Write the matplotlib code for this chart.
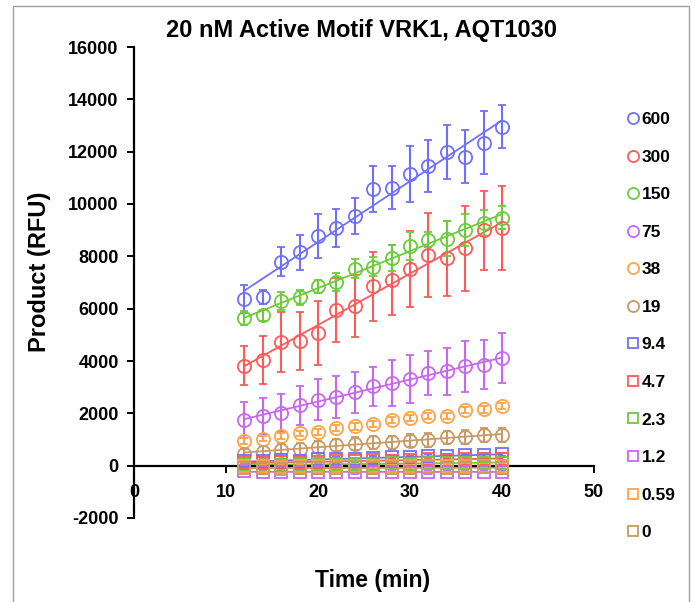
import numpy as np
import matplotlib
matplotlib.use("Agg")
import matplotlib.pyplot as plt
from matplotlib.lines import Line2D
from matplotlib.patches import Rectangle

plt.rcParams['font.family'] = ['Liberation Sans', 'DejaVu Sans']
plt.rcParams['axes.unicode_minus'] = False

time = [12, 14, 16, 18, 20, 22, 24, 26, 28, 30, 32, 34, 36, 38, 40]

labels = ["600", "300", "150", "75", "38", "19", "9.4", "4.7", "2.3", "1.2", "0.59", "0"]

c600 = [6380, 6440, 7800, 8160, 8790, 9080, 9550, 10570, 10630, 11150, 11460, 12000, 11810, 12350, 12960]
e600 = [530, 270, 570, 670, 840, 720, 690, 865, 840, 1055, 990, 1030, 1025, 1210, 835]
c300 = [3820, 4040, 4720, 4770, 5080, 5960, 6110, 6850, 7100, 7520, 8050, 7930, 8300, 8990, 9080]
e300 = [745, 920, 1140, 1115, 1220, 1220, 1180, 1325, 1335, 1450, 1600, 1430, 1610, 1515, 1590]
c150 = [5640, 5740, 6280, 6440, 6850, 7010, 7520, 7610, 7950, 8400, 8630, 8670, 9010, 9270, 9480]
e150 = [255, 220, 350, 285, 255, 340, 360, 380, 500, 540, 290, 670, 610, 510, 445]
c75 = [1760, 1910, 2010, 2300, 2520, 2620, 2810, 3030, 3160, 3310, 3540, 3600, 3790, 3860, 4110]
e75 = [690, 690, 730, 745, 775, 800, 780, 750, 865, 920, 840, 890, 985, 940, 955]
c38 = [950, 1030, 1130, 1230, 1280, 1440, 1500, 1590, 1740, 1820, 1890, 1900, 2120, 2150, 2280]
e38 = [110, 100, 120, 110, 120, 110, 120, 110, 120, 130, 120, 130, 120, 130, 120]
c19 = [450, 540, 600, 640, 730, 800, 840, 890, 900, 960, 970, 1080, 1110, 1160, 1170]
e19 = [200, 210, 220, 220, 230, 230, 240, 240, 250, 250, 260, 260, 270, 270, 280]
s9_4 = [160, 180, 200, 190, 240, 260, 250, 300, 330, 320, 380, 370, 400, 410, 430]
s4_7 = [100, 90, 130, 120, 150, 180, 170, 200, 190, 220, 240, 230, 260, 250, 270]
s2_3 = [20, 0, 40, 30, 50, 70, 60, 80, 90, 70, 100, 110, 90, 120, 110]
s1_2 = [-220, -240, -230, -250, -240, -230, -250, -240, -230, -240, -250, -230, -240, -230, -240]
s0_59 = [-30, -20, -40, -10, -30, -20, 0, -20, -10, -30, -10, 0, -20, -10, 0]
s0 = [-100, -90, -110, -80, -100, -90, -70, -90, -80, -100, -70, -80, -90, -70, -80]
serr = [60, 60, 60, 60, 60, 60, 60, 60, 60, 60, 60, 60, 60, 60, 60]

values = [c600, c300, c150, c75, c38, c19, s9_4, s4_7, s2_3, s1_2, s0_59, s0]
errors = [e600, e300, e150, e75, e38, e19, serr, serr, serr, serr, serr, serr]
markers = ['o'] * 6 + ['s'] * 6
trend = [True, True, True, True, False, True, True, True, True, True, True, True]

palette = ['#6f6fff', '#ff5a5a', '#6ccc3c', '#c867f0', '#ffa347', '#c89a64']
colors = palette + palette

fig = plt.figure(figsize=(6.95, 6.02), dpi=100)
ax = fig.add_axes([134/695, 1-518/602, 460/695, 471/602])

t = np.array(time, dtype=float)
for v, e, m, c, tr in zip(values, errors, markers, colors, trend):
    v = np.array(v, dtype=float)
    ax.errorbar(t, v, yerr=e, fmt=m, ms=9.5 if m == 'o' else 8.5, mfc='none', mec=c, mew=1.3,
                ecolor=c, elinewidth=1.5, capsize=3, capthick=1.5, zorder=3)
    if tr:
        p = np.polyfit(t, v, 1)
        xx = np.array([t[0], t[-1]])
        ax.plot(xx, np.polyval(p, xx), color=c, lw=1.3, zorder=2)

ax.set_xlim(0, 50)
ax.set_ylim(-2000, 16000)
ax.set_xticks(np.arange(0, 51, 10))
ax.set_yticks(np.arange(-2000, 16001, 2000))
ax.spines['bottom'].set_position(('data', 0))
for s in ['top', 'right']:
    ax.spines[s].set_visible(False)
for s in ['left', 'bottom']:
    ax.spines[s].set_linewidth(1.6)
    ax.spines[s].set_color('black')
ax.tick_params(axis='x', direction='out', length=5, width=1.4, pad=8, labelsize=13)
ax.tick_params(axis='y', direction='out', length=5, width=1.4, pad=6, labelsize=13)
for lab in ax.get_xticklabels() + ax.get_yticklabels():
    lab.set_fontweight('bold')

fig.text(362/695, 1-31/602, "20 nM Active Motif VRK1, AQT1030", ha='center', va='center',
         fontsize=17, fontweight='bold')
fig.text(373/695, 1-580/602, "Time (min)", ha='center', va='center', fontsize=16.5, fontweight='bold')
fig.text(40/695, 1-272/602, "Product (RFU)", ha='center', va='center', rotation=90,
         fontsize=17, fontweight='bold')

handles = [Line2D([], [], ls='none', marker=m, ms=8 if m == 'o' else 7.5, mfc='none', mec=c, mew=1.3)
           for m, c in zip(markers, colors)]
leg = fig.legend(handles, labels, loc='upper left', bbox_to_anchor=(626/695, 1-112/602),
                 frameon=False, borderpad=0, borderaxespad=0, handlelength=0.8, handletextpad=0.1,
                 labelspacing=1.29, prop={'weight': 'bold', 'size': 12.5})

fig.patches.append(Rectangle((13/695, -0.05), (689-13)/695, 1.05-6/602, transform=fig.transFigure,
                             fill=False, edgecolor='#a0a0a0', lw=1.0))

fig.savefig("out.png", dpi=100)
